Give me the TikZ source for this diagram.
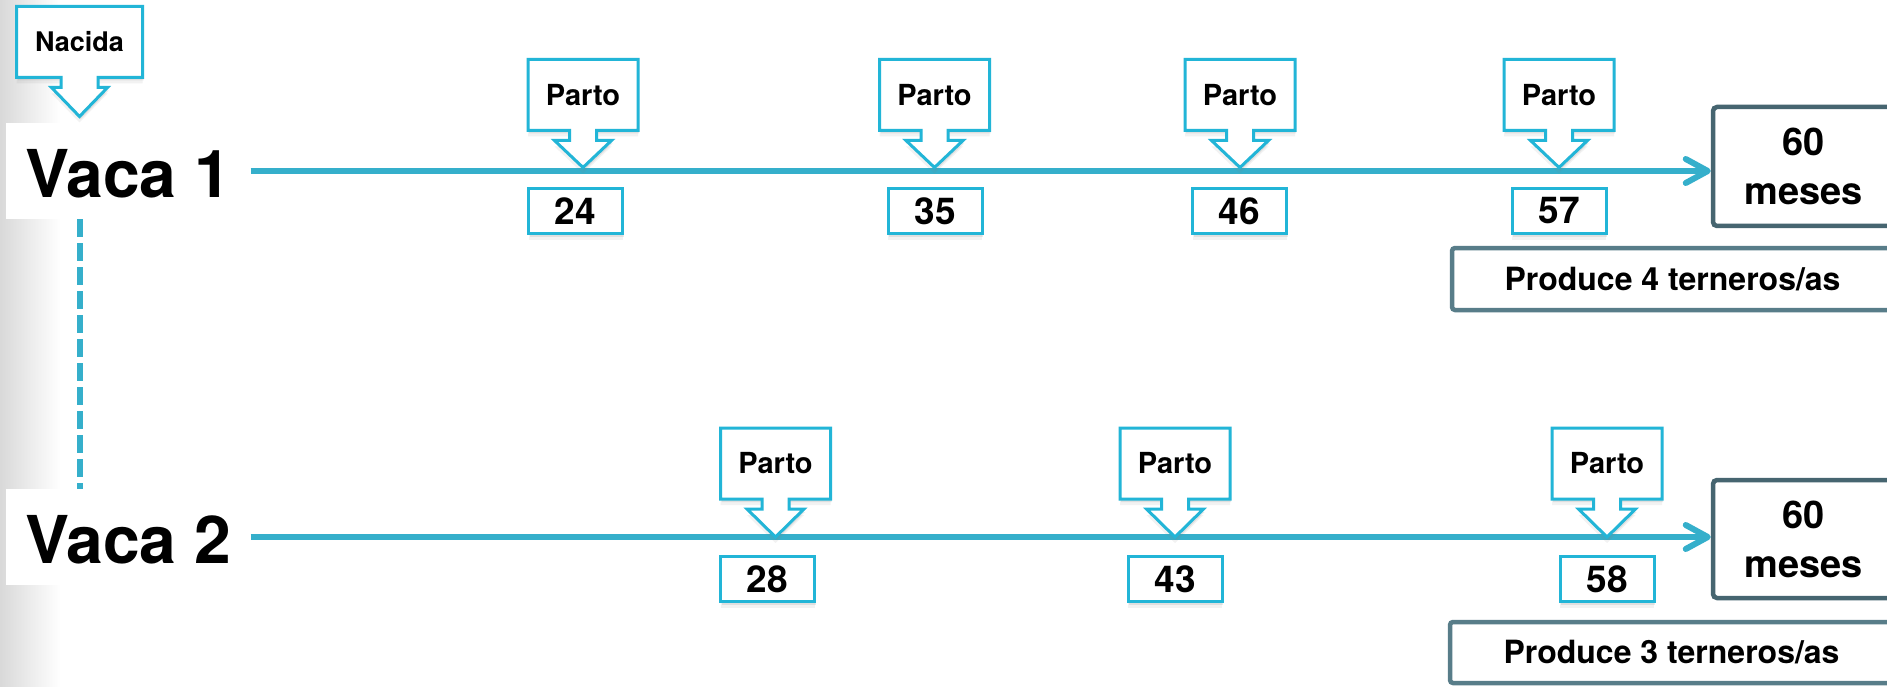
\documentclass[tikz,border=0pt]{standalone}
\usepackage{fontspec}
\setmainfont{TeX Gyre Heros}
\usetikzlibrary{calc,shadows,arrows.meta}

\definecolor{lineblue}{HTML}{35AFCB}
\definecolor{edgeblue}{HTML}{22B5D7}
\definecolor{slatedark}{HTML}{466570}
\definecolor{slate}{HTML}{587D89}

\pgfdeclarelayer{bg}
\pgfdeclarelayer{mid}
\pgfsetlayers{bg,mid,main}

\tikzset{
  fsz/.style={font=\bfseries\fontsize{#1}{#1}\selectfont},
  softshadow/.style={
    drop shadow={shadow xshift=0pt, shadow yshift=-6pt, opacity=0.10},
    drop shadow={shadow xshift=1pt, shadow yshift=-3pt, opacity=0.16}},
  cowlabel/.style={fill=white, inner xsep=19pt, inner ysep=0pt,
    text height=74pt, text depth=22pt, anchor=base west, fsz=66},
  calloutbox/.style={minimum width=110pt, minimum height=71pt,
    inner sep=0pt, outer sep=0pt, fsz=29},
  calloutshape/.style={draw=edgeblue, fill=white, line width=3pt,
    line join=miter, softshadow},
  numbox/.style={draw=edgeblue, fill=white, line width=3pt,
    minimum width=94pt, minimum height=45pt, inner sep=0pt, fsz=37, softshadow},
  endbox/.style={draw=slatedark, fill=white, line width=4.5pt, rounded corners=4pt,
    minimum width=181pt, inner sep=0pt, align=center,
    font=\bfseries\fontsize{38}{49}\selectfont},
  resultbox/.style={draw=slate, fill=white, line width=4.5pt, rounded corners=3pt,
    inner sep=0pt, fsz=32},
  timeline/.style={draw=lineblue, line width=6pt,
    -{Straight Barb[length=22pt,width=24pt,round]}},
  cowlink/.style={draw=lineblue, line width=6pt, dash pattern=on 18pt off 6pt},
}

% callout arrow hanging below a box node: node, stem half-width, wing half-width, tip depth
\newcommand{\calloutarrow}[4]{%
  \begin{pgfonlayer}{mid}
  \path[calloutshape] (#1.north west) -- (#1.north east) -- (#1.south east)
    -- ($(#1.south)+(#2,0)$) -- ($(#1.south)+(#2,10)$) -- ($(#1.south)+(#3,10)$)
    -- ($(#1.south)+(0,#4)$)
    -- ($(#1.south)+(-#3,10)$) -- ($(#1.south)+(-#2,10)$) -- ($(#1.south)+(-#2,0)$)
    -- (#1.south west) -- cycle;
  \end{pgfonlayer}}

\begin{document}
\begin{tikzpicture}[x=1pt, y=-1pt]
  \useasboundingbox (0,0) rectangle (1887,687);

  \begin{pgfonlayer}{bg}
    \fill[white] (0,0) rectangle (1887,687);
    \shade[left color=gray!30, right color=white] (0,0) rectangle (60,687);
  \end{pgfonlayer}

  % cow labels
  \node[cowlabel] (v1) at (6,197) {Vaca 1};
  \node[cowlabel] (v2) at (6,563) {Vaca 2};

  % birth marker
  \node[calloutbox, minimum width=126pt, fsz=27] (nac) at (79.5,42) {Nacida};
  \calloutarrow{nac}{18.5}{28}{39}

  % end-of-period boxes
  \node[endbox, minimum height=119pt] (m1) at (1803.5,166.5) {60\\meses};
  \node[endbox, minimum height=118pt] (m2) at (1803.5,539) {60\\meses};
  \node[resultbox, minimum width=441pt, minimum height=62pt] (r1) at (1672.5,279) {Produce 4 terneros/as};
  \node[resultbox, minimum width=443pt, minimum height=61pt] (r2) at (1671.5,652.5) {Produce 3 terneros/as};

  % timelines
  \begin{pgfonlayer}{bg}
    \draw[timeline] (v1.east) -- (v1.east -| m1.west);
    \draw[timeline] (v2.east) -- (v2.east -| m2.west);
    \draw[cowlink] (v1.south -| nac.south) -- (v2.north -| nac.south);
  \end{pgfonlayer}

  % calvings, cow 1
  \node[calloutbox] (p11) at (583,95) {Parto};
  \node[calloutbox] (p12) at (934.5,95) {Parto};
  \node[calloutbox] (p13) at (1240,95) {Parto};
  \node[calloutbox] (p14) at (1559,95) {Parto};
  \calloutarrow{p11}{13.5}{28.5}{37}
  \calloutarrow{p12}{13.5}{28.5}{37}
  \calloutarrow{p13}{13.5}{28.5}{37}
  \calloutarrow{p14}{13.5}{28.5}{37}
  \node[numbox] (n11) at (575.5,211) {24};
  \node[numbox] (n12) at (935,211) {35};
  \node[numbox] (n13) at (1239.5,211) {46};
  \node[numbox] (n14) at (1559,211) {57};

  % calvings, cow 2
  \node[calloutbox] (p21) at (775.5,463.5) {Parto};
  \node[calloutbox] (p22) at (1175,463.5) {Parto};
  \node[calloutbox] (p23) at (1607,463.5) {Parto};
  \calloutarrow{p21}{13.5}{28.5}{38}
  \calloutarrow{p22}{13.5}{28.5}{38}
  \calloutarrow{p23}{13.5}{28.5}{38}
  \node[numbox] (n21) at (767.5,579) {28};
  \node[numbox] (n22) at (1175,579) {43};
  \node[numbox] (n23) at (1607,579) {58};
\end{tikzpicture}
\end{document}
